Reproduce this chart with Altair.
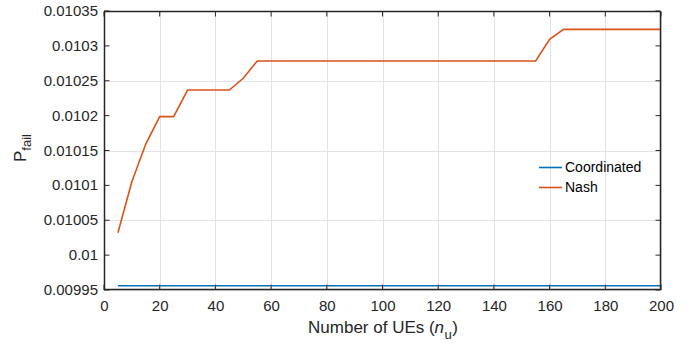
import altair as alt
import pandas as pd

# ---- data ----
n_users = [5, 10, 15, 20, 25, 30, 35, 40, 45, 50,
           55, 60, 65, 70, 75, 80, 85, 90, 95, 100,
           105, 110, 115, 120, 125, 130, 135, 140, 145, 150,
           155, 160, 165, 170, 175, 180, 185, 190, 195, 200]
coordinated = [0.0099562] * 40
nash = [0.0100322, 0.0101053, 0.0101593, 0.0101985, 0.0101985,
        0.0102367, 0.0102367, 0.0102367, 0.0102367, 0.0102535,
        0.0102783, 0.0102783, 0.0102783, 0.0102783, 0.0102783,
        0.0102783, 0.0102783, 0.0102783, 0.0102783, 0.0102783,
        0.0102783, 0.0102783, 0.0102783, 0.0102783, 0.0102783,
        0.0102783, 0.0102783, 0.0102783, 0.0102783, 0.0102783,
        0.0102783, 0.0103094, 0.0103237, 0.0103237, 0.0103237,
        0.0103237, 0.0103237, 0.0103237, 0.0103237, 0.0103237]
series_names = ["Coordinated", "Nash"]
series_colors = ["#0072BD", "#D95319"]
x_ticks = [0, 20, 40, 60, 80, 100, 120, 140, 160, 180, 200]
y_ticks = [0.00995, 0.01, 0.01005, 0.0101, 0.01015, 0.0102, 0.01025, 0.0103, 0.01035]
y_tick_labels = ["0.00995", "0.01", "0.01005", "0.0101", "0.01015",
                 "0.0102", "0.01025", "0.0103", "0.01035"]

FONT = "Liberation Sans"
INK = "#262626"
W, H = 557, 279
TICK = 5.5

df = pd.DataFrame({
    "n": n_users * 2,
    "p": coordinated + nash,
    "series": [series_names[0]] * len(n_users) + [series_names[1]] * len(n_users),
})

xs = alt.Scale(domain=[0, 200], nice=False, zero=False)
ys = alt.Scale(domain=[0.00995, 0.01035], nice=False, zero=False)

lines = alt.Chart(df).mark_line(strokeWidth=1.6).encode(
    x=alt.X("n:Q", scale=xs,
            axis=alt.Axis(values=x_ticks, format="d", title=None, grid=True,
                          gridColor="#e3e3e3", tickSize=0, domain=False,
                          labelOverlap=False, labelFlush=False,
                          labelFontSize=15, labelColor=INK, labelFont=FONT,
                          labelPadding=8)),
    y=alt.Y("p:Q", scale=ys,
            axis=alt.Axis(values=y_ticks, title=None, grid=True,
                          gridColor="#e3e3e3", tickSize=0, domain=False,
                          labelOverlap=False, labelFlush=False,
                          labelFontSize=15, labelColor=INK, labelFont=FONT,
                          labelPadding=6)),
    color=alt.Color("series:N",
                    scale=alt.Scale(domain=series_names, range=series_colors),
                    legend=alt.Legend(title=None, orient="none",
                                      legendX=434, legendY=144,
                                      symbolType="stroke", symbolSize=529,
                                      symbolStrokeWidth=1.6, labelFontSize=14,
                                      labelFont=FONT, labelColor="#000000",
                                      labelOffset=2, rowPadding=-11,
                                      padding=0)),
)

xt = pd.DataFrame({"v": x_ticks})
yt = pd.DataFrame({"v": y_ticks, "lab": y_tick_labels})
bottom_ticks = alt.Chart(xt).mark_rule(color=INK, strokeWidth=1).encode(
    x=alt.X("v:Q", scale=xs), y=alt.value(H), y2=alt.value(H - TICK))
top_ticks = alt.Chart(xt).mark_rule(color=INK, strokeWidth=1).encode(
    x=alt.X("v:Q", scale=xs), y=alt.value(1), y2=alt.value(TICK))
left_ticks = alt.Chart(yt).mark_rule(color=INK, strokeWidth=1).encode(
    y=alt.Y("v:Q", scale=ys), x=alt.value(0), x2=alt.value(TICK))
right_ticks = alt.Chart(yt).mark_rule(color=INK, strokeWidth=1).encode(
    y=alt.Y("v:Q", scale=ys), x=alt.value(W - 1), x2=alt.value(W - TICK))
# y tick labels drawn as text so none are dropped
y_labels = alt.Chart(yt).mark_text(align="right", baseline="middle", font=FONT,
                                   fontSize=15, color=INK).encode(
    y=alt.Y("v:Q", scale=ys), x=alt.value(-6), text="lab:N")

one = pd.DataFrame({"k": [0]})
frame_top = alt.Chart(one).mark_rule(color=INK, strokeWidth=1.5).encode(
    x=alt.value(0), x2=alt.value(W), y=alt.value(0.5))
frame_right = alt.Chart(one).mark_rule(color=INK, strokeWidth=1.5).encode(
    x=alt.value(W - 0.5), y=alt.value(0), y2=alt.value(H))
frame_left = alt.Chart(one).mark_rule(color=INK, strokeWidth=1.5).encode(
    x=alt.value(0.5), y=alt.value(0), y2=alt.value(H))
frame_bottom = alt.Chart(one).mark_rule(color=INK, strokeWidth=1.5).encode(
    x=alt.value(0), x2=alt.value(W), y=alt.value(H - 0.5))

# ---- axis titles with italics / subscripts ----
TS = 17      # title font size
SS = 13      # subscript font size
main_txt = "Number of UEs ("
em = {"N": .722, "u": .556, "m": .833, "b": .556, "e": .556, "r": .333, " ": .278,
      "o": .556, "f": .278, "U": .722, "E": .667, "s": .5, "(": .333, ")": .333,
      "n": .556, "P": .667}
w_main = sum(em[c] for c in main_txt) * TS
w_n = em["n"] * TS
w_u = em["u"] * SS
w_close = em[")"] * TS
total = w_main + w_n + w_u + w_close
x0 = W / 2 - total / 2
base = 322


def txt(text, x, y, size, italic=False, angle=0):
    kw = dict(text=text, align="left", baseline="alphabetic", font=FONT,
              fontSize=size, color=INK)
    if italic:
        kw["fontStyle"] = "italic"
    if angle:
        kw["angle"] = angle
    return alt.Chart(one).mark_text(**kw).encode(x=alt.value(x), y=alt.value(y))


xtitle = [
    txt(main_txt, x0, base, TS),
    txt("n", x0 + w_main, base, TS, italic=True),
    txt("u", x0 + w_main + w_n + 0.5, base + 6, SS),
    txt(")", x0 + w_main + w_n + w_u + 1, base, TS),
]
ytitle = [
    txt("P", -78, 151, TS, angle=270),
    txt("fail", -73, 151 - em["P"] * TS, SS, angle=270),
]

chart = alt.layer(lines, bottom_ticks, top_ticks, left_ticks, right_ticks,
                  frame_top, frame_right, frame_left, frame_bottom, y_labels,
                  *xtitle, *ytitle).properties(
    width=W, height=H,
    autosize=alt.AutoSizeParams(type="none"),
    padding={"left": 104, "top": 11, "right": 39, "bottom": 55},
    background="white",
).configure_view(strokeWidth=0).configure_axisY(labels=False)

chart.save("out.html", embed_options={"renderer": "svg", "actions": False})
